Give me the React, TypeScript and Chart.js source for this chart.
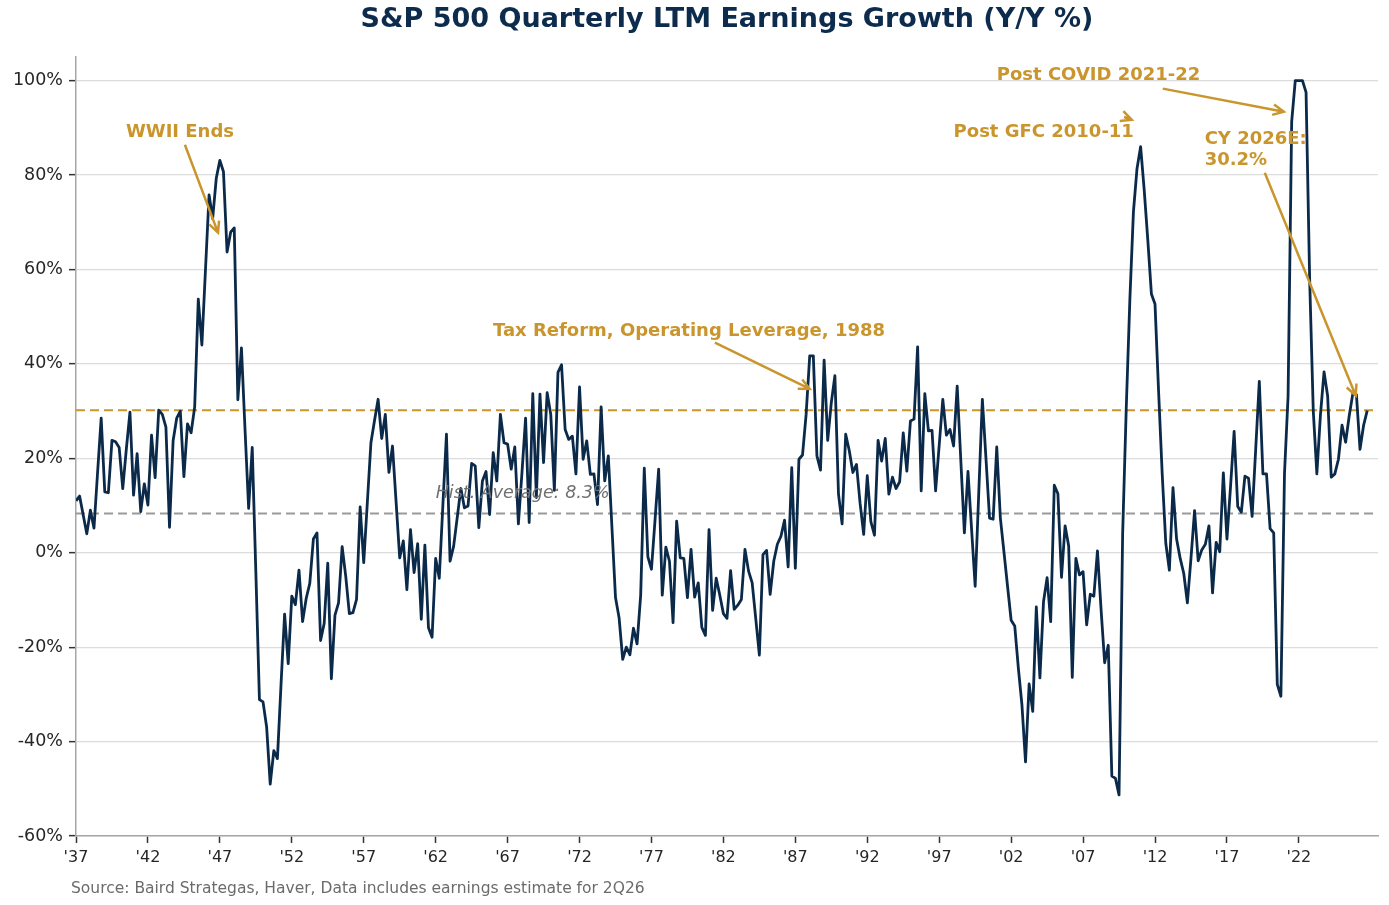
import React, { useEffect, useRef } from "react";
import { Chart, registerables } from "chart.js";

Chart.register(...registerables);

const NAVY = "#0b2a4a";
const GOLD = "#c9952c";
const FONT = "'DejaVu Sans', sans-serif";

// LTM earnings growth, % y/y, one value per quarter starting 1Q37
const firstYear = 1937;
const growth1937 = [11, 12, 8, 4, 9, 5.2, 17, 28.5, 12.9, 12.7, 23.8, 23.5, 22.3, 13.6, 22, 29.8, 12.2, 21, 8.7, 14.6, 10.1, 24.9, 15.9, 30.2, 29.3, 26.6, 5.4, 23.7, 28.5, 30.0, 16.1, 27.3, 25.4, 30.9, 53.7, 44, 60, 75.8, 70.8, 79.3];
const growth1947 = [83.1, 80.7, 63.7, 67.9, 68.8, 32.4, 43.4, 26, 9.4, 22.3, -4, -31.1, -31.6, -36.9, -49, -41.9, -43.6, -28, -13, -23.5, -9.2, -11, -3.7, -14.6, -9.7, -6.5, 2.9, 4.2, -18.6, -15, -2.2, -26.7, -13.2, -10.6, 1.3, -5, -12.9, -12.7, -9.9, 9.7];
const growth1957 = [-2.1, 10.6, 23.3, 28, 32.5, 24.2, 29.3, 17, 22.6, 10.7, -1.1, 2.5, -7.8, 4.9, -4.2, 1.9, -14.1, 1.6, -15.9, -17.9, -1.2, -5.4, 10, 25.1, -1.8, 1.4, 7.5, 13.6, 9.5, 9.9, 18.9, 18.4, 5.3, 15.2, 17.2, 8.1, 21.2, 15.2, 29.3, 23.3];
const growth1967 = [23, 17.7, 22.4, 6.1, 17, 28.5, 6.4, 33.7, 11.7, 33.6, 19.1, 33.9, 29.3, 13.2, 38.2, 39.8, 26.1, 24, 24.7, 16.7, 35.1, 19.8, 23.7, 16.6, 16.7, 10.2, 30.9, 15.2, 20.5, 5.5, -9.5, -13.8, -22.6, -20, -21.6, -16, -19.3, -9, 17.9, -0.9];
const growth1977 = [-3.5, 7, 17.7, -9, 1.2, -1.8, -14.8, 6.7, -1.1, -1.2, -9.5, 0.7, -9.4, -6.4, -15.8, -17.5, 4.9, -12.2, -5.4, -9, -12.9, -13.9, -3.8, -12, -11.1, -9.9, 0.7, -3.9, -6.4, -14, -21.7, -0.4, 0.5, -8.8, -1.8, 1.8, 3.5, 6.9, -3, 18];
const growth1987 = [-3.3, 19.8, 20.7, 29.3, 41.7, 41.7, 20.5, 17.5, 40.8, 23.8, 31.8, 37.5, 12.4, 6.1, 25.1, 21.6, 17, 18.7, 10.5, 3.9, 16.3, 6.6, 3.7, 23.8, 19.4, 24.2, 12.4, 16, 13.6, 15, 25.4, 17.3, 27.9, 28.3, 43.6, 13.1, 33.7, 25.8, 25.9, 13.1];
const growth1997 = [22.8, 32.5, 24.9, 26.1, 22.6, 35.3, 19.7, 4.2, 17.2, 5, -7.1, 12.7, 32.5, 20, 7.3, 7.1, 22.4, 7.4, 0.2, -7.1, -14.3, -15.5, -24.4, -32.2, -44.3, -27.8, -33.6, -11.5, -26.5, -10.4, -5.3, -14.6, 14.3, 12.5, -5.2, 5.7, 1.4, -26.4, -1.2, -4.7];
const growth2007 = [-4, -15.3, -8.8, -9.2, 0.4, -12, -23.3, -19.6, -47.3, -47.8, -51.3, 3.9, 30.5, 53.4, 72.2, 81.4, 86, 76.8, 66.2, 54.8, 52.7, 34.1, 16.7, 2, -3.7, 13.8, 2.9, -1.2, -4.4, -10.6, -1.2, 8.9, -1.7, 0.6, 1.8, 5.7, -8.5, 2.2, 0.2, 16.9];
const growth2017 = [2.9, 14, 25.7, 9.8, 8.6, 16.2, 15.8, 7.7, 22, 36.3, 16.7, 16.7, 5.1, 4.2, -27.9, -30.4, 16.7, 33.2, 91.3, 100, 100, 100, 97.5, 57.8, 30.1, 16.7, 29.2, 38.3, 33.2, 16, 16.7, 19.8, 27, 23.4, 29, 33.7, 33.5, 21.9, 27, 30.1];

const histAverage = 8.3;
const cy2026e = 30.2;

const xTickYears = [1937, 1942, 1947, 1952, 1957, 1962, 1967, 1972, 1977, 1982, 1987, 1992, 1997, 2002, 2007, 2012, 2017, 2022];
const yTickValues = [-60, -40, -20, 0, 20, 40, 60, 80, 100];

// callouts: text anchor + arrow (tail -> head), in data units
const callouts = [
  { lines: ["WWII Ends"], x: 1940.47, y: 89, arrow: [1944.57, 86.4, 1946.87, 67.8] },
  { lines: ["Tax Reform, Operating Leverage, 1988"], x: 1965.98, y: 47, arrow: [1981.41, 44.5, 1988.0, 34.7] },
  { lines: ["Post GFC 2010-11"], x: 1998.0, y: 89, arrow: [2009.85, 92.3, 2010.38, 91.7] },
  { lines: ["Post COVID 2021-22"], x: 2001.0, y: 101.1, arrow: [2012.54, 98.3, 2020.95, 93.4] },
  { lines: ["CY 2026E:", "30.2%"], x: 2015.45, y: 87.5, arrow: [2019.63, 80.5, 2025.95, 33.3] },
];

const allGrowth = [
  ...growth1937, ...growth1947, ...growth1957, ...growth1967, ...growth1977,
  ...growth1987, ...growth1997, ...growth2007, ...growth2017,
];

const drawArrow = (ctx: CanvasRenderingContext2D, x1: number, y1: number, x2: number, y2: number) => {
  const ang = Math.atan2(y2 - y1, x2 - x1);
  const head = 12;
  ctx.beginPath();
  ctx.moveTo(x1, y1);
  ctx.lineTo(x2, y2);
  ctx.moveTo(x2 - head * Math.cos(ang - 0.45), y2 - head * Math.sin(ang - 0.45));
  ctx.lineTo(x2, y2);
  ctx.lineTo(x2 - head * Math.cos(ang + 0.45), y2 - head * Math.sin(ang + 0.45));
  ctx.stroke();
};

const decorations = {
  id: "decorations",
  afterDraw(chart: any) {
    const { ctx, chartArea, scales } = chart;
    const xs = scales.x;
    const ys = scales.y;
    ctx.save();

    ctx.fillStyle = "#0d2b4c";
    ctx.font = `bold 27px ${FONT}`;
    ctx.textAlign = "center";
    ctx.textBaseline = "middle";
    ctx.fillText("S&P 500 Quarterly LTM Earnings Growth (Y/Y %)", (chartArea.left + chartArea.right) / 2, 20);

    ctx.fillStyle = "#6b6b6b";
    ctx.font = `15.5px ${FONT}`;
    ctx.textAlign = "left";
    ctx.fillText("Source: Baird Strategas, Haver, Data includes earnings estimate for 2Q26", 71, 889);

    ctx.fillStyle = "#707070";
    ctx.font = `italic 17.5px ${FONT}`;
    ctx.fillText(`Hist. Average: ${histAverage}%`, xs.getPixelForValue(1962.0), ys.getPixelForValue(12.5));

    ctx.fillStyle = GOLD;
    ctx.strokeStyle = GOLD;
    ctx.lineWidth = 2.5;
    ctx.font = `bold 18px ${FONT}`;
    callouts.forEach((c) => {
      const px = xs.getPixelForValue(c.x);
      const py = ys.getPixelForValue(c.y);
      c.lines.forEach((t, i) => ctx.fillText(t, px, py + i * 21));
      const [ax, ay, bx, by] = c.arrow;
      drawArrow(ctx, xs.getPixelForValue(ax), ys.getPixelForValue(ay), xs.getPixelForValue(bx), ys.getPixelForValue(by));
    });

    ctx.restore();
  },
};

const App: React.FC = () => {
  const canvasRef = useRef<HTMLCanvasElement | null>(null);
  const chartRef = useRef<Chart | null>(null);

  useEffect(() => {
    document.body.style.margin = "0";
    if (chartRef.current) {
      chartRef.current.destroy();
    }
    if (!canvasRef.current) return;

    const points = allGrowth.map((v, i) => ({ x: firstYear + i * 0.25, y: v }));
    const xMin = 1937;
    const xMax = 2027.5;

    chartRef.current = new Chart(canvasRef.current, {
      type: "line",
      data: {
        datasets: [
          {
            data: points,
            borderColor: NAVY,
            borderWidth: 2.8,
            pointRadius: 0,
            tension: 0,
            borderJoinStyle: "round",
            order: 0,
          },
          {
            data: [{ x: xMin, y: cy2026e }, { x: xMax, y: cy2026e }],
            borderColor: GOLD,
            borderWidth: 2,
            borderDash: [9, 5],
            pointRadius: 0,
            order: 1,
          },
          {
            data: [{ x: xMin, y: histAverage }, { x: xMax, y: histAverage }],
            borderColor: "#9a9a9a",
            borderWidth: 2,
            borderDash: [9, 5],
            pointRadius: 0,
            order: 1,
          },
        ],
      },
      options: {
        animation: false,
        responsive: false,
        devicePixelRatio: 1,
        layout: { padding: { left: 0, top: 57, right: 11, bottom: 0 } },
        plugins: {
          legend: { display: false },
          tooltip: { enabled: false },
          title: { display: false },
        },
        scales: {
          x: {
            type: "linear",
            min: xMin,
            max: xMax,
            afterBuildTicks: (s: any) => {
              s.ticks = xTickYears.map((v) => ({ value: v }));
            },
            afterFit: (s: any) => {
              s.height = 69;
            },
            ticks: {
              autoSkip: false,
              maxRotation: 0,
              padding: 5,
              color: "#262626",
              font: { family: FONT, size: 16 },
              callback: (v: any) => "'" + String(v).slice(2),
            },
            grid: {
              drawOnChartArea: false,
              drawTicks: true,
              tickLength: 7,
              tickColor: "#333333",
              tickWidth: 1.5,
            },
            border: { color: "#a6a6a6", width: 1.5 },
          },
          y: {
            min: -60,
            max: 105,
            afterBuildTicks: (s: any) => {
              s.ticks = yTickValues.map((v) => ({ value: v }));
            },
            afterFit: (s: any) => {
              s.width = 76;
            },
            ticks: {
              padding: 6,
              color: "#262626",
              font: { family: FONT, size: 17.5 },
              callback: (v: any) => v + "%",
            },
            grid: {
              color: "#dcdcdc",
              lineWidth: 1.3,
              tickLength: 7,
              tickColor: "#333333",
              tickWidth: 1.5,
            },
            border: { color: "#a6a6a6", width: 1.5 },
          },
        },
      },
      plugins: [decorations],
    });

    return () => {
      if (chartRef.current) {
        chartRef.current.destroy();
        chartRef.current = null;
      }
    };
  }, []);

  return (
    <div style={{ width: 1389, height: 905, background: "#ffffff" }}>
      <canvas ref={canvasRef} width={1389} height={905} style={{ display: "block" }} />
    </div>
  );
};

export default App;
